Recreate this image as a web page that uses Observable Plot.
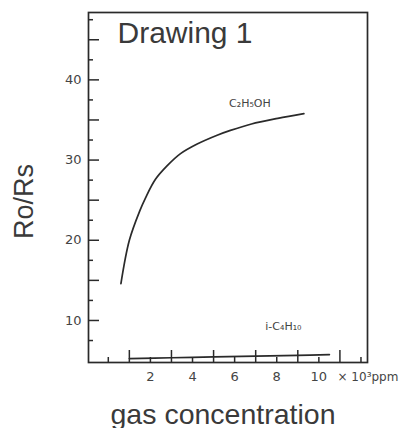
<!DOCTYPE html>
<html><head><meta charset="utf-8">
<script src="https://cdn.jsdelivr.net/npm/d3@7"></script>
<script src="https://cdn.jsdelivr.net/npm/@observablehq/plot@0.6"></script>
<style>body{margin:0;background:#fff} #chart svg{display:block}</style>
</head><body><div id="chart"></div>
<script>
// ---- data ----
const ethanolX = [0.6, 1.0, 1.5, 1.77, 2.24, 2.8, 3.43, 4.22, 5.17, 5.8, 6.8, 8.05, 9.29];
const ethanolY = [14.6, 20.0, 23.7, 25.3, 27.6, 29.3, 30.8, 32.0, 33.1, 33.7, 34.5, 35.2, 35.8];
const isobutaneX = [1, 3, 5, 7, 9, 10.5];
const isobutaneY = [5.25, 5.35, 5.45, 5.55, 5.65, 5.75];
const seriesNames = ["C₂H₅OH", "i-C₄H₁₀"];
const yTickLabels = [10, 20, 30, 40];
const yMajorTicks = [10, 15, 20, 25, 30, 35, 40, 45];
const yMinorTicks = [7.5, 12.5, 17.5, 22.5, 27.5, 32.5, 37.5, 42.5, 47.5];
const xTickLabels = [2, 4, 6, 8, 10];
const xShortTicks = [0, 2, 4, 6, 8, 10, 12];
const xTallTicks = [1, 3, 5, 7, 9, 11];
const titleText = "Drawing 1";
const xTitle = "gas concentration";
const yTitle = "Ro/Rs";
const unitText = "× 10³ppm";

const ethanol = ethanolX.map((x, i) => ({x, y: ethanolY[i], name: seriesNames[0]}));
const isobutane = isobutaneX.map((x, i) => ({x, y: isobutaneY[i], name: seriesNames[1]}));

const ink = "#2a2a2a";
const chart = Plot.plot({
  width: 400, height: 428,
  marginLeft: 88, marginRight: 33, marginTop: 12, marginBottom: 66,
  style: {fontFamily: "DejaVu Sans", background: "#fff", color: ink},
  x: {domain: [-0.94, 12.31]},
  y: {domain: [4.76, 48.4]},
  marks: [
    Plot.frame({stroke: ink, strokeWidth: 1.7}),
    Plot.axisY(yMajorTicks, {tickSize: -11, text: null, label: null, stroke: ink, strokeWidth: 1.5}),
    Plot.axisY(yMinorTicks, {tickSize: -5, text: null, label: null, stroke: ink, strokeWidth: 1.5}),
    Plot.axisY(yTickLabels, {tickSize: 0, tickPadding: 7, label: null, fontSize: 13, fill: "#444"}),
    Plot.axisX(xTallTicks, {tickSize: -12, text: null, label: null, stroke: ink, strokeWidth: 1.5}),
    Plot.axisX(xShortTicks, {tickSize: -5, text: null, label: null, stroke: ink, strokeWidth: 1.5}),
    Plot.axisX(xTickLabels, {tickSize: 0, tickPadding: 9, label: null, fontSize: 13, fill: "#444"}),
    Plot.line(ethanol, {x: "x", y: "y", curve: "catmull-rom", stroke: ink, strokeWidth: 1.7}),
    Plot.line(isobutane, {x: "x", y: "y", curve: "catmull-rom", stroke: ink, strokeWidth: 1.7}),
    Plot.text(ethanol, Plot.selectLast({x: "x", y: "y", text: "name", dx: -54, dy: -10, fontSize: 11, fill: "#444"})),
    Plot.text(isobutane, Plot.selectLast({x: "x", y: "y", text: "name", dx: -46, dy: -28, fontSize: 11, fill: "#444"})),
    Plot.text([titleText], {text: d => d, frameAnchor: "top-left", dx: 29, dy: 30, textAnchor: "start", lineAnchor: "bottom", fontSize: 30, fontFamily: "Liberation Sans", fill: "#3a3a3a"}),
    Plot.text([unitText], {text: d => d, frameAnchor: "bottom-right", dx: -30, dy: 15, textAnchor: "start", lineAnchor: "middle", fontSize: 12, fill: "#444"}),
    Plot.text([xTitle], {text: d => d, frameAnchor: "bottom", dx: -5, dy: 61, textAnchor: "middle", lineAnchor: "bottom", fontSize: 28.5, fontFamily: "Liberation Sans", fill: "#3a3a3a"}),
    Plot.text([yTitle], {text: d => d, frameAnchor: "left", dx: -64, dy: 14, rotate: -90, textAnchor: "middle", lineAnchor: "middle", fontSize: 27, fontFamily: "Liberation Sans", fill: "#3a3a3a"})
  ]
});
document.getElementById("chart").appendChild(chart);
</script>
</body></html>
